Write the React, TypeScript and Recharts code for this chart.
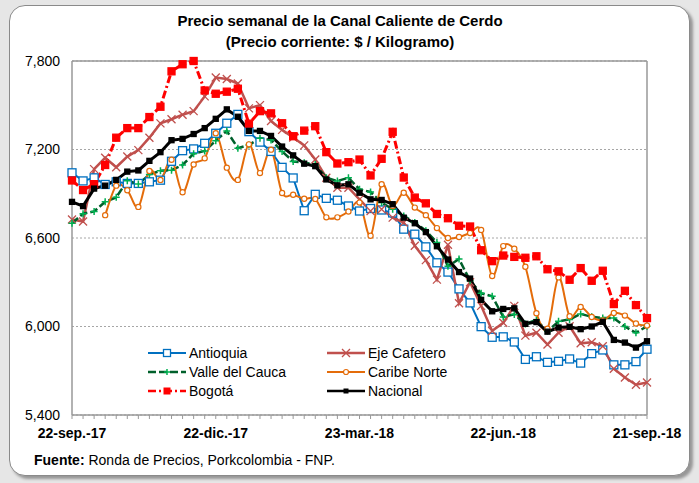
import React from "react";
import { LineChart, Line, XAxis, YAxis, CartesianGrid, ReferenceLine } from "recharts";

// semanas: 22-sep-17 ... 21-sep-18 (53 semanas)
const xTicks = [0, 13, 26, 39, 52];
const xLabels = ["22-sep.-17", "22-dic.-17", "23-mar.-18", "22-jun.-18", "21-sep.-18"];
const yTicks = [5400, 6000, 6600, 7200, 7800];

const antioquia = [
  7042, 6987, 7008, 6963, 6981, 6970, 6970, 6981, 6992, 7120, 7192, 7204, 7242, 7310, 7378, 7438, 7321, 7250,
  7187, 7079, 7007, 6785, 6896, 6869, 6856, 6817, 6783, 6800, 6790, 6770, 6660, 6626, 6540, 6432, 6369, 6255,
  6160, 5999, 5927, 5930, 5895, 5777, 5795, 5757, 5764, 5780, 5752, 5816, 5841, 5740, 5740, 5762, 5846,
];
const ejeCafetero = [
  6725, 6712, 7067, 7144, 7080, 7152, 7196, 7280, 7377, 7405, 7436, 7460, 7560, 7688, 7678, 7647, 7479, 7501,
  7393, 7333, 7281, 7228, 7132, 7009, 6941, 6941, 6862, 6783, 6795, 6738, 6705, 6547, 6450, 6318, 6554, 6158,
  6300, 6140, 5970, 6025, 6140, 5938, 5958, 5878, 5958, 6002, 5886, 5893, 5866, 5714, 5654, 5605, 5620,
];
const valleCauca = [
  6700, 6765, 6780, 6845, 6876, 6988, 6966, 7030, 7056, 7060, 7095, 7172, 7190, 7260, 7326, 7209, 7231, 7276,
  7265, 7187, 7119, 7110, 7099, 7009, 6986, 7009, 6930, 6912, 6840, 6795, 6750, 6705, 6650, 6570, 6408, 6458,
  6310, 6225, 6205, 6065, 6082, 6017, 6044, 5967, 6035, 6048, 6085, 6066, 6057, 6057, 6000, 5957, 6002,
];
const caribeNorte = [
  null, null, null, 6755, 6955, 6924, 6811, 7055, 6994, 7131, 6910, 7098, 7140, 7311, 7077, 6994, 7235, 7040,
  7199, 6905, 6893, 6866, 6865, 6740, 6740, 6780, 6840, 6615, 6964, 6817, 6907, 6806, 6755, 6667, 6600, 6607,
  6634, 6655, 6342, 6545, 6527, 6405, 6090, 5985, 6333, 6070, 6133, 6065, 6041, 6092, 6074, 6020, 6006,
];
const bogota = [
  6990, 6925, 6965, 7095, 7280, 7345, 7345, 7420, 7490, 7730, 7778, 7800, 7600, 7578, 7592, 7612, 7375, 7460,
  7445, 7378, 7290, 7328, 7358, 7182, 7105, 7114, 7132, 7024, 7137, 7320, 7010, 6874, 6835, 6763, 6734, 6683,
  6678, 6517, 6443, 6481, 6472, 6466, 6476, 6388, 6374, 6317, 6396, 6310, 6378, 6152, 6242, 6145, 6057,
];
const nacional = [
  6845, 6816, 6935, 6955, 6994, 7050, 7058, 7123, 7182, 7263, 7272, 7305, 7345, 7408, 7472, 7422, 7326, 7326,
  7292, 7220, 7160, 7104, 7087, 6997, 6957, 6964, 6907, 6862, 6858, 6829, 6738, 6700, 6640, 6544, 6454, 6369,
  6325, 6181, 6103, 6119, 6123, 6018, 6030, 5965, 5993, 5998, 5982, 6000, 6032, 5909, 5891, 5857, 5900,
];

const data = antioquia.map((v, i) => ({
  semana: i,
  antioquia: v,
  eje: ejeCafetero[i],
  valle: valleCauca[i],
  caribe: caribeNorte[i],
  bogota: bogota[i],
  nacional: nacional[i],
}));
const allWeeks = data.map(d => d.semana);

const FONT = "'Liberation Sans', Arial, sans-serif";

const BLUE = "#0070C0";
const EJE = "#C0504D";
const GREEN_LINE = "#00602B";
const GREEN_MK = "#00B050";
const ORANGE = "#E46C0A";
const RED = "#FF0000";

// excel-like smoothed line (catmull-rom through the points)
function excelSmooth(context: any) {
  let pts: number[][] = [];
  return {
    areaStart() {},
    areaEnd() {},
    lineStart() { pts = []; },
    lineEnd() {
      const n = pts.length;
      if (!n) return;
      context.moveTo(pts[0][0], pts[0][1]);
      const t = 1 / 6;
      for (let i = 0; i < n - 1; i++) {
        const p0 = pts[Math.max(i - 1, 0)], p1 = pts[i], p2 = pts[i + 1], p3 = pts[Math.min(i + 2, n - 1)];
        context.bezierCurveTo(
          p1[0] + (p2[0] - p0[0]) * t, p1[1] + (p2[1] - p0[1]) * t,
          p2[0] - (p3[0] - p1[0]) * t, p2[1] - (p3[1] - p1[1]) * t,
          p2[0], p2[1],
        );
      }
    },
    point(x: number, y: number) { pts.push([+x, +y]); },
  };
}

// marker shapes
const squareDot = (stroke: string, fill: string, size: number) => (p: any) => {
  if (p.cx == null || p.cy == null || p.value == null) return <g key={p.index} />;
  return (
    <rect key={p.index} x={p.cx - size / 2} y={p.cy - size / 2} width={size} height={size}
      fill={fill} stroke={stroke} strokeWidth={1.3} />
  );
};
const crossDot = (color: string, s: number) => (p: any) => {
  if (p.cx == null || p.cy == null) return <g key={p.index} />;
  return (
    <path key={p.index} d={`M${p.cx - s},${p.cy - s}L${p.cx + s},${p.cy + s}M${p.cx - s},${p.cy + s}L${p.cx + s},${p.cy - s}`}
      stroke={color} strokeWidth={1.3} fill="none" />
  );
};
const plusDot = (color: string, s: number) => (p: any) => {
  if (p.cx == null || p.cy == null) return <g key={p.index} />;
  return (
    <path key={p.index} d={`M${p.cx - s},${p.cy}L${p.cx + s},${p.cy}M${p.cx},${p.cy - s}L${p.cx},${p.cy + s}`}
      stroke={color} strokeWidth={1.5} fill="none" />
  );
};
const circleDot = (color: string, r: number) => (p: any) => {
  if (p.cx == null || p.cy == null || p.value == null) return <g key={p.index} />;
  return <circle key={p.index} cx={p.cx} cy={p.cy} r={r} fill="#fff" stroke={color} strokeWidth={1.2} />;
};

const legendItems = [
  { name: "Antioquia", color: BLUE, dash: undefined, width: 2, marker: "sq" },
  { name: "Eje Cafetero", color: EJE, dash: undefined, width: 2.5, marker: "x" },
  { name: "Valle del Cauca", color: GREEN_LINE, dash: "8 3", width: 2.5, marker: "+" },
  { name: "Caribe Norte", color: ORANGE, dash: undefined, width: 2, marker: "o" },
  { name: "Bogotá", color: RED, dash: "8 3 2 3", width: 2.5, marker: "fsq" },
  { name: "Nacional", color: "#000", dash: undefined, width: 2.5, marker: "bsq" },
];

function LegendIcon({ item }: { item: any }) {
  const c = 19, m = 6;
  let mk: React.ReactNode = null;
  if (item.marker === "sq") mk = <rect x={c - 3.5} y={m - 3.5} width={7} height={7} fill="#fff" stroke={item.color} strokeWidth={1.3} />;
  if (item.marker === "x") mk = <path d={`M${c - 4},${m - 4}L${c + 4},${m + 4}M${c - 4},${m + 4}L${c + 4},${m - 4}`} stroke={item.color} strokeWidth={1.3} />;
  if (item.marker === "+") mk = <path d={`M${c - 3},${m}L${c + 3},${m}M${c},${m - 3}L${c},${m + 3}`} stroke={GREEN_MK} strokeWidth={1.5} />;
  if (item.marker === "o") mk = <circle cx={c} cy={m} r={2.5} fill="#fff" stroke={item.color} strokeWidth={1.2} />;
  if (item.marker === "fsq") mk = <rect x={c - 3.5} y={m - 3.5} width={7} height={7} fill={RED} />;
  if (item.marker === "bsq") mk = <rect x={c - 2.5} y={m - 2.5} width={5} height={5} fill="#000" />;
  return (
    <svg width={38} height={12} style={{ display: "block" }}>
      <line x1={0} y1={m} x2={38} y2={m} stroke={item.color} strokeWidth={item.width} strokeDasharray={item.dash} />
      {mk}
    </svg>
  );
}

export default function App() {
  return (
    <div style={{ position: "absolute", left: 0, top: 0, width: 699, height: 483, background: "#e6e6e6", fontFamily: FONT, overflow: "hidden" }}>
      <div style={{
        position: "absolute", left: 9, top: 5, width: 679, height: 469, background: "#fff",
        border: "1.5px solid #8a8a8a", borderRadius: 16, boxShadow: "3px 3px 3px rgba(0,0,0,0.35)",
      }} />
      <div style={{ position: "absolute", left: 0, top: 10, width: 680, textAlign: "center", fontSize: 15, fontWeight: "bold", lineHeight: "21px", color: "#000" }}>
        <div>Precio semanal de la Canal Caliente de Cerdo</div>
        <div>(Precio corriente: $ / Kilogramo)</div>
      </div>

      <div style={{ position: "absolute", left: 0, top: 0 }}>
        <LineChart width={699} height={483} data={data} margin={{ top: 61, right: 52, bottom: 38, left: 0 }}>
          <CartesianGrid vertical={false} stroke="#a6a6a6" strokeDasharray="2 2" />
          <XAxis
            dataKey="semana" type="number" domain={[0, 52]} ticks={allWeeks} interval={0}
            tickFormatter={(v: number) => { const k = xTicks.indexOf(v); return k >= 0 ? xLabels[k] : ""; }}
            height={30} tickSize={4} tickMargin={9}
            axisLine={{ stroke: "#999", strokeWidth: 1.5 }} tickLine={{ stroke: "#999" }}
            tick={{ fontSize: 14, fontWeight: "bold", fill: "#000", fontFamily: FONT }}
          />
          <YAxis
            domain={[5400, 7800]} ticks={yTicks} width={72} tickSize={6} tickMargin={6}
            tickFormatter={(v: number) => v.toLocaleString("en-US")}
            axisLine={{ stroke: "#999", strokeWidth: 1.5 }} tickLine={false}
            tick={{ fontSize: 14, fill: "#000", fontFamily: FONT }}
          />
          <ReferenceLine y={7800} stroke="#999" strokeWidth={1.5} />
          <ReferenceLine x={52} stroke="#999" strokeWidth={1.5} />

          <Line dataKey="antioquia" stroke={BLUE} strokeWidth={2} dot={squareDot(BLUE, "#fff", 8)} isAnimationActive={false} />
          <Line dataKey="eje" stroke={EJE} strokeWidth={2.5} dot={crossDot(EJE, 4)} isAnimationActive={false} />
          <Line dataKey="valle" stroke={GREEN_LINE} strokeWidth={2.5} strokeDasharray="8 3" dot={plusDot(GREEN_MK, 3.5)} isAnimationActive={false} />
          <Line dataKey="caribe" type={excelSmooth as any} stroke={ORANGE} strokeWidth={2} dot={circleDot(ORANGE, 2.6)} connectNulls={false} isAnimationActive={false} />
          <Line dataKey="bogota" stroke={RED} strokeWidth={3} strokeDasharray="8 3 2 3" dot={squareDot(RED, RED, 7)} isAnimationActive={false} />
          <Line dataKey="nacional" stroke="#000" strokeWidth={3} dot={squareDot("#000", "#000", 5)} isAnimationActive={false} />
        </LineChart>
      </div>

      {legendItems.map((it, k) => {
        const col = k % 2, row = Math.floor(k / 2);
        return (
          <div key={it.name} style={{
            position: "absolute", left: col === 0 ? 148 : 327, top: 344 + row * 19,
            display: "flex", alignItems: "center", fontSize: 14, lineHeight: "18px", color: "#000",
          }}>
            <LegendIcon item={it} />
            <span style={{ marginLeft: 3 }}>{it.name}</span>
          </div>
        );
      })}

      <div style={{ position: "absolute", left: 34, top: 452, fontSize: 14, lineHeight: "16px", color: "#000" }}>
        <b>Fuente:</b> Ronda de Precios, Porkcolombia - FNP.
      </div>
    </div>
  );
}
